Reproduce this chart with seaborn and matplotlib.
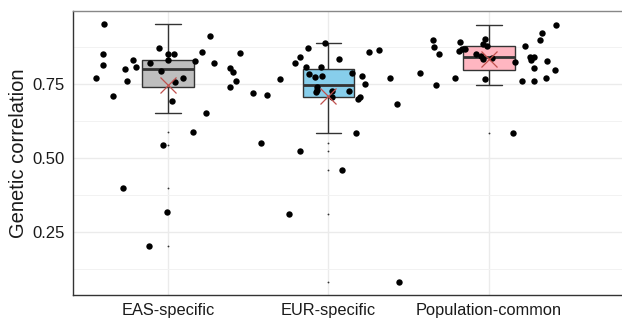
import numpy as np
import pandas as pd
import matplotlib
matplotlib.use("Agg")
import matplotlib.pyplot as plt
import seaborn as sns
from matplotlib.ticker import MultipleLocator

categories = ["EAS-specific", "EUR-specific", "Population-common"]
eas_values = [0.953, 0.913, 0.873, 0.857, 0.855, 0.851, 0.851, 0.850, 0.831, 0.831,
              0.828, 0.820, 0.820, 0.813, 0.808, 0.806, 0.801, 0.793, 0.791, 0.771,
              0.771, 0.760, 0.760, 0.757, 0.741, 0.709, 0.692, 0.651, 0.588, 0.545,
              0.399, 0.316, 0.204]
eur_values = [0.890, 0.873, 0.866, 0.857, 0.841, 0.834, 0.820, 0.808, 0.807, 0.788,
              0.784, 0.777, 0.776, 0.775, 0.770, 0.767, 0.751, 0.740, 0.730, 0.726,
              0.725, 0.722, 0.719, 0.713, 0.705, 0.705, 0.700, 0.683, 0.583, 0.550,
              0.523, 0.460, 0.311, 0.080]
pop_values = [0.948, 0.922, 0.902, 0.899, 0.898, 0.891, 0.885, 0.879, 0.878, 0.876,
              0.869, 0.868, 0.863, 0.850, 0.850, 0.845, 0.841, 0.841, 0.839, 0.834,
              0.830, 0.829, 0.825, 0.803, 0.797, 0.786, 0.770, 0.769, 0.766, 0.762,
              0.759, 0.747, 0.586]
box_colors = ["#BEBEBE", "#87CEEB", "#FFB6C1"]
y_ticks = [0.25, 0.50, 0.75]
y_tick_labels = ["0.25", "0.50", "0.75"]
y_label = "Genetic correlation"

df = pd.DataFrame({
    "group": [categories[0]] * len(eas_values) + [categories[1]] * len(eur_values)
             + [categories[2]] * len(pop_values),
    "rg": eas_values + eur_values + pop_values,
})

sns.set_style("white")
plt.rcParams["font.family"] = ["Liberation Sans", "DejaVu Sans"]

fig = plt.figure(figsize=(6.22, 3.2), dpi=100)
ax = fig.add_axes([73 / 622, 25 / 320, 1 - 73 / 622, 284 / 320])
ax.set_axisbelow(True)

sns.boxplot(data=df, x="group", y="rg", hue="group", order=categories,
            hue_order=categories, palette=box_colors, saturation=1, width=0.32,
            linecolor="#333333", linewidth=1.0, legend=False,
            flierprops=dict(marker="o", markersize=1.3, markerfacecolor="#333333",
                            markeredgecolor="none"),
            medianprops=dict(linewidth=2.0, color="#333333"), ax=ax)

np.random.seed(7)
sns.stripplot(data=df, x="group", y="rg", order=categories, color="black",
              size=4.6, jitter=0.47, ax=ax, zorder=3)

sns.pointplot(data=df, x="group", y="rg", order=categories, estimator="mean",
              errorbar=None, markers="x", linestyles="none", color="#C0504D",
              markersize=11, markeredgewidth=0.9, ax=ax, zorder=4)

ax.set_xlim(-0.592, 2.829)
ax.set_ylim(0.037, 0.997)
ax.set_yticks(y_ticks)
ax.set_yticklabels(y_tick_labels)
ax.yaxis.set_minor_locator(MultipleLocator(0.125))
ax.grid(which="major", color="#EBEBEB", linewidth=1.0)
ax.grid(which="minor", axis="y", color="#F2F2F2", linewidth=0.7)
ax.tick_params(which="minor", length=0)
ax.tick_params(axis="y", which="major", length=4, width=0.8, color="#333333",
               labelsize=12, labelcolor="#1a1a1a", pad=2)
ax.tick_params(axis="x", which="major", length=3, width=0.8, color="#999999",
               labelsize=11.8, labelcolor="#1a1a1a", pad=3)
ax.set_xlabel("")
ax.set_ylabel(y_label, fontsize=14.5, color="#1a1a1a", labelpad=3)

for side in ["left", "bottom"]:
    ax.spines[side].set_color("#333333")
    ax.spines[side].set_linewidth(1.0)
ax.spines["top"].set_color("#888888")
ax.spines["top"].set_linewidth(1.0)
ax.spines["right"].set_visible(False)

fig.savefig("out.png", dpi=100)
